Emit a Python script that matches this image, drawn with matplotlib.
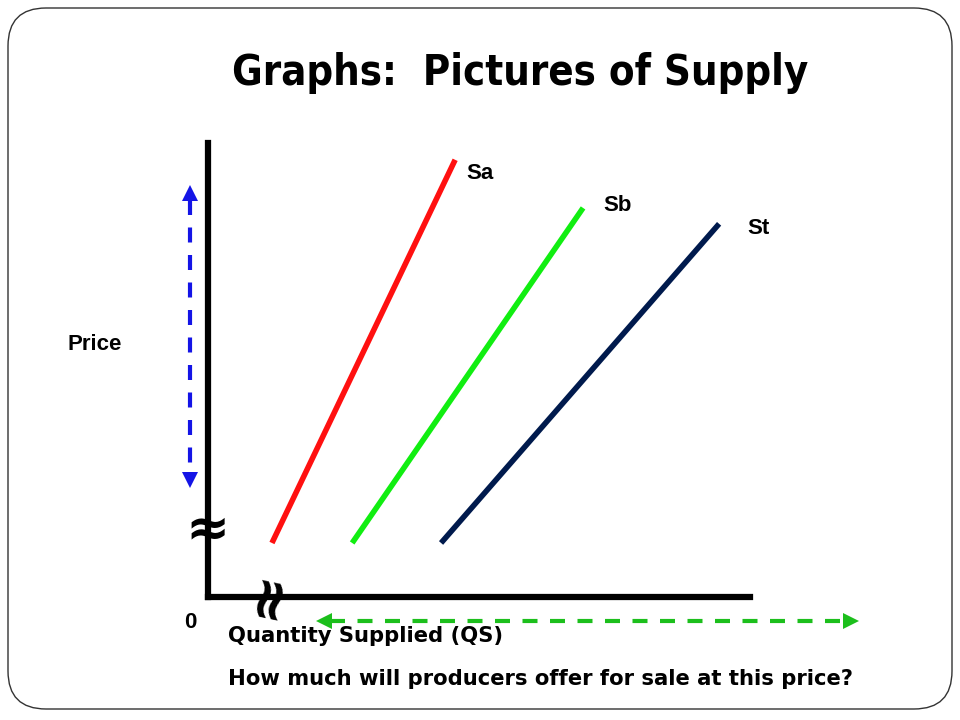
import matplotlib.pyplot as plt
from matplotlib.patches import FancyBboxPatch

# supply curves: (quantity, price) end points on a 0-100 scale
series = ['Sa', 'Sb', 'St']
qty_start = [11.8, 26.6, 43.0]
qty_end = [45.6, 69.2, 94.3]
price_start = [11.9, 11.9, 11.9]
price_end = [96.3, 85.7, 82.2]
label_q = [50.2, 75.5, 101.5]
label_p = [93.2, 86.3, 81.1]
colors = ['#ff1010', '#11ee11', '#001a4d']

W, H = 960, 720
fig = plt.figure(figsize=(9.6, 7.2), dpi=100)

# overlay for slide decorations, in pixel units
deco = fig.add_axes([0, 0, 1, 1])
deco.set_xlim(0, W)
deco.set_ylim(H, 0)
deco.axis('off')

frame = FancyBboxPatch((8, 8), 944, 701, boxstyle='round,pad=0,rounding_size=38',
                       fc='white', ec='#333333', lw=1.0)
deco.add_patch(frame)

arial = ['Liberation Sans', 'DejaVu Sans']
deco.text(520, 73, 'Graphs:  Pictures of Supply', ha='center', va='center',
          fontsize=30, fontweight='bold', fontstretch='condensed', family='DejaVu Sans')
deco.text(95, 344, 'Price', ha='center', va='center', fontsize=16, fontweight='bold', family=arial)
deco.text(190, 623, '0', ha='center', va='center', fontsize=16, fontweight='bold', family=arial)
deco.text(228, 636, 'Quantity Supplied (QS)', ha='left', va='center', fontsize=15.2, fontweight='bold')
deco.text(228, 679, 'How much will producers offer for sale at this price?', ha='left',
          va='center', fontsize=15.2, fontweight='bold')

# dashed double arrows: shaft + triangle heads
blue, green = '#1414e6', '#1cbf1c'
deco.plot([190, 190], [200, 474], color=blue, lw=3, ls=(0, (3.6, 3)))
deco.plot([190], [193], marker='^', ms=11, color=blue, mew=0)
deco.plot([190], [480], marker='v', ms=11, color=blue, mew=0)
deco.plot([330, 845], [621, 621], color=green, lw=3, ls=(0, (3.6, 3)))
deco.plot([324], [621], marker='<', ms=11, color=green, mew=0)
deco.plot([851], [621], marker='>', ms=11, color=green, mew=0)

# chart axes
ax = fig.add_axes([208 / W, (H - 597) / H, (750 - 208) / W, (597 - 143) / H])
ax.set_xlim(0, 100)
ax.set_ylim(0, 100)
ax.patch.set_alpha(0)
for side in ['top', 'right']:
    ax.spines[side].set_visible(False)
ax.spines['left'].set_linewidth(4.5)
ax.spines['bottom'].set_linewidth(4.5)
ax.set_xticks([])
ax.set_yticks([])

for name, q0, q1, p0, p1, lq, lp, c in zip(series, qty_start, qty_end, price_start,
                                           price_end, label_q, label_p, colors):
    ax.plot([q0, q1], [p0, p1], color=c, lw=4, solid_capstyle='butt')
    ax.text(lq, lp, name, ha='center', va='center', fontsize=16, fontweight='bold',
            family=arial, clip_on=False)

# axis break marks: small gap in the price axis, then the squiggles
ax.plot([0, 0], [0.135, 0.17], color='white', lw=6, solid_capstyle='butt',
        transform=ax.transAxes, clip_on=False)
ax.text(0, 14.8, '≈', ha='center', va='center', fontsize=38, fontweight='bold', clip_on=False)
ax.text(10.9, 0.6, '≈', ha='center', va='center', fontsize=42, fontweight='bold', rotation=78,
        clip_on=False)

fig.savefig('out.png', dpi=100)
